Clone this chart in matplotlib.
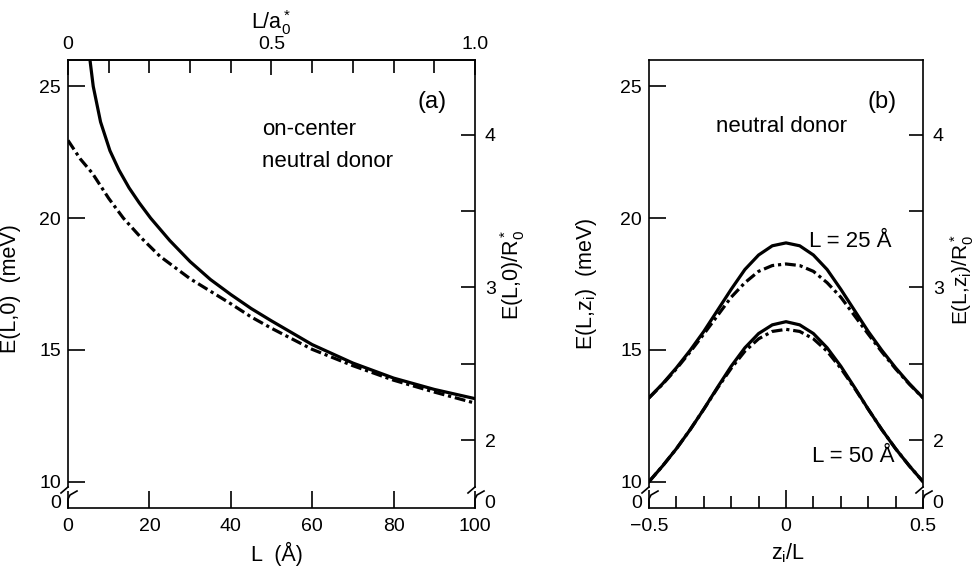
import matplotlib
matplotlib.use('Agg')
import matplotlib.pyplot as plt
from matplotlib.lines import Line2D
from matplotlib.ticker import FixedLocator

plt.rcParams['font.family'] = ['Liberation Sans', 'DejaVu Sans']
plt.rcParams['mathtext.fontset'] = 'custom'
plt.rcParams['mathtext.rm'] = 'Liberation Sans'
plt.rcParams['mathtext.it'] = 'Liberation Sans'
plt.rcParams['mathtext.bf'] = 'Liberation Sans:bold'
plt.rcParams['font.size'] = 14

LABEL_FS = 15.5
ANNOT_FS = 16

# ---------------- data ----------------
R0 = 5.79      # meV per effective Rydberg
A0 = 100.0     # Angstrom per effective Bohr radius

# panel (a): on-center neutral donor, E(L,0) vs L
L_solid = [5.4, 6.2, 8, 10.3, 12.5, 15, 17.5, 20.3, 25, 30, 35, 40, 45, 50, 60, 70, 80, 90, 100]
E_solid = [26.0, 25.0, 23.65, 22.56, 21.83, 21.15, 20.58, 20.0, 19.15, 18.35, 17.67, 17.1,
           16.57, 16.1, 15.2, 14.5, 13.93, 13.5, 13.15]
L_dash = [0, 3, 6, 10, 13.6, 18, 22.6, 30, 40, 45, 50, 60, 70, 80, 90, 100]
E_dash = [22.95, 22.25, 21.7, 20.75, 20.0, 19.25, 18.55, 17.7, 16.75, 16.25, 15.82, 15.02,
          14.4, 13.85, 13.4, 12.98]

# panel (b): neutral donor, E(L,z_i) vs z_i/L
z = [-0.5, -0.45, -0.4, -0.35, -0.3, -0.25, -0.2, -0.15, -0.1, -0.05, 0.0,
     0.05, 0.1, 0.15, 0.2, 0.25, 0.3, 0.35, 0.4, 0.45, 0.5]
E25_solid = [13.18, 13.72, 14.32, 14.98, 15.7, 16.5, 17.3, 18.05, 18.6, 18.95, 19.06,
             18.95, 18.6, 18.05, 17.3, 16.5, 15.7, 14.98, 14.32, 13.72, 13.18]
E25_dash = [13.18, 13.7, 14.28, 14.92, 15.6, 16.3, 17.0, 17.55, 17.98, 18.2, 18.26,
            18.2, 17.98, 17.55, 17.0, 16.3, 15.6, 14.92, 14.28, 13.7, 13.18]
E50_solid = [10.0, 10.6, 11.25, 11.97, 12.75, 13.58, 14.38, 15.08, 15.62, 15.95, 16.07,
             15.95, 15.62, 15.08, 14.38, 13.58, 12.75, 11.97, 11.25, 10.6, 10.0]
E50_dash = [10.0, 10.6, 11.25, 11.97, 12.75, 13.55, 14.3, 14.95, 15.42, 15.7, 15.78,
            15.7, 15.42, 14.95, 14.3, 13.55, 12.75, 11.97, 11.25, 10.6, 10.0]

meV_ticks = [10, 15, 20, 25]
R_major = [2, 3, 4]
R_minor = [2.5, 3.5]
YMIN, YMAX = 9.0, 26.0

# ---------------- figure ----------------
W, H = 979, 567
fig = plt.figure(figsize=(W / 100, H / 100), dpi=100)

def frac_axes(l, r, t, b):
    return fig.add_axes([l / W, 1 - b / H, (r - l) / W, (b - t) / H])

axa = frac_axes(68, 475, 60, 508)
axb = frac_axes(649, 923, 60, 508)

LW = 2.3
DASH = (0, (3.4, 1.2, 1.0, 1.2))
SPW = 1.2

def style_axes(ax, wpx, hpx):
    ax.set_ylim(YMIN, YMAX)
    for s in ax.spines.values():
        s.set_linewidth(SPW)
    brk = YMIN + (508 - 487) / 26.35
    ax.spines['left'].set_bounds(brk, YMAX)
    ax.spines['right'].set_bounds(brk, YMAX)
    ax.set_yticks(meV_ticks)
    ax.set_yticklabels([str(v) for v in meV_ticks])
    ax.tick_params(axis='y', which='major', direction='in', length=12, width=SPW,
                   left=True, right=False, pad=5)
    ax2 = ax.twinx()
    ax2.set_ylim(YMIN, YMAX)
    for s in ax2.spines.values():
        s.set_visible(False)
    ax2.yaxis.set_major_locator(FixedLocator([r * R0 for r in R_major]))
    ax2.set_yticklabels([str(r) for r in R_major])
    ax2.yaxis.set_minor_locator(FixedLocator([r * R0 for r in R_minor]))
    ax2.tick_params(axis='y', which='both', direction='in', length=10, width=SPW, pad=7)
    for x0 in (0, 1):
        ax.add_line(Line2D([x0, x0 - 7 / wpx], [21 / hpx, 15 / hpx], transform=ax.transAxes,
                           color='k', lw=SPW, clip_on=False))
        ax.add_line(Line2D([x0, x0, x0 + 2 / wpx, x0 + 9 / wpx],
                           [0, 9 / hpx, 13 / hpx, 17 / hpx], transform=ax.transAxes,
                           color='k', lw=SPW, clip_on=False))
    ax.text(-7 / wpx, 4 / hpx, '0', transform=ax.transAxes, ha='right', va='center')
    ax.text(1 + 9 / wpx, 4 / hpx, '0', transform=ax.transAxes, ha='left', va='center')
    return ax2

# ---------- panel (a) ----------
axa.plot(L_solid, E_solid, color='k', lw=LW)
axa.plot(L_dash, E_dash, color='k', lw=LW, linestyle=DASH, dash_capstyle='butt')
axa.set_xlim(0, 100)
axa.set_xticks([0, 20, 40, 60, 80, 100])
axa.tick_params(axis='x', which='major', direction='in', length=12, width=SPW, pad=7,
                top=False, bottom=True)
axa2 = style_axes(axa, 407, 448)
axa.set_xlabel('L  (Å)', fontsize=LABEL_FS)
axa.xaxis.set_label_coords(0.513, -0.075)
axa.set_ylabel('E(L,0)  (meV)', fontsize=LABEL_FS)
axa.yaxis.set_label_coords(-0.115, 0.49)
axa2.set_ylabel(r'E(L,0)/R$\mathregular{_0^*}$', fontsize=LABEL_FS)
axa2.yaxis.set_label_coords(1.057, 0.52)

top = axa.secondary_xaxis('top', functions=(lambda L: L / A0, lambda x: x * A0))
top.set_xticks([0, 0.5, 1.0])
top.set_xticklabels(['0', '0.5', '1.0'])
top.xaxis.set_minor_locator(FixedLocator([0.1, 0.2, 0.3, 0.4, 0.6, 0.7, 0.8, 0.9]))
top.tick_params(axis='x', which='major', direction='in', length=11, width=SPW, pad=5)
top.tick_params(axis='x', which='minor', direction='in', length=9, width=SPW)
top.spines['top'].set_linewidth(SPW)
top.set_xlabel(r'L/a$\mathregular{_0^*}$', labelpad=5, fontsize=LABEL_FS)

axa.text(89.4, 24.4, '(a)', fontsize=17, ha='center', va='center')
axa.text(47.7, 23.35, 'on-center', ha='left', va='center', fontsize=ANNOT_FS)
axa.text(47.7, 22.15, 'neutral donor', ha='left', va='center', fontsize=ANNOT_FS)

# ---------- panel (b) ----------
axb.plot(z, E25_solid, color='k', lw=LW)
axb.plot(z, E25_dash, color='k', lw=LW, linestyle=DASH, dash_capstyle='butt')
axb.plot(z, E50_solid, color='k', lw=LW)
axb.plot(z, E50_dash, color='k', lw=LW, linestyle=DASH, dash_capstyle='butt')
axb.set_xlim(-0.5, 0.5)
axb.set_xticks([-0.5, 0, 0.5])
axb.set_xticklabels(['\u22120.5', '0', '0.5'])
axb.xaxis.set_minor_locator(FixedLocator([-0.4, -0.3, -0.2, -0.1, 0.1, 0.2, 0.3, 0.4]))
axb.tick_params(axis='x', which='major', direction='in', length=13, width=SPW, pad=7,
                top=False, bottom=True)
axb.tick_params(axis='x', which='minor', direction='in', length=8.5, width=SPW,
                top=False, bottom=True)
axb2 = style_axes(axb, 274, 448)
axb.set_xlabel(r'z$\mathregular{_i}$/L', fontsize=LABEL_FS)
axb.xaxis.set_label_coords(0.507, -0.075)
axb.set_ylabel(r'E(L,z$\mathregular{_i}$)  (meV)', fontsize=LABEL_FS)
axb.yaxis.set_label_coords(-0.182, 0.5)
axb2.set_ylabel(r'E(L,z$\mathregular{_i}$)/R$\mathregular{_0^*}$', fontsize=15)
axb2.yaxis.set_label_coords(1.094, 0.51)

axb.text(0.35, 24.4, '(b)', fontsize=17, ha='center', va='center')
axb.text(-0.018, 23.46, 'neutral donor', ha='center', va='center', fontsize=ANNOT_FS)
axb.text(0.234, 19.13, 'L = 25 Å', ha='center', va='center', fontsize=ANNOT_FS)
axb.text(0.245, 10.94, 'L = 50 Å', ha='center', va='center', fontsize=ANNOT_FS)

fig.savefig('out.png', dpi=100)
